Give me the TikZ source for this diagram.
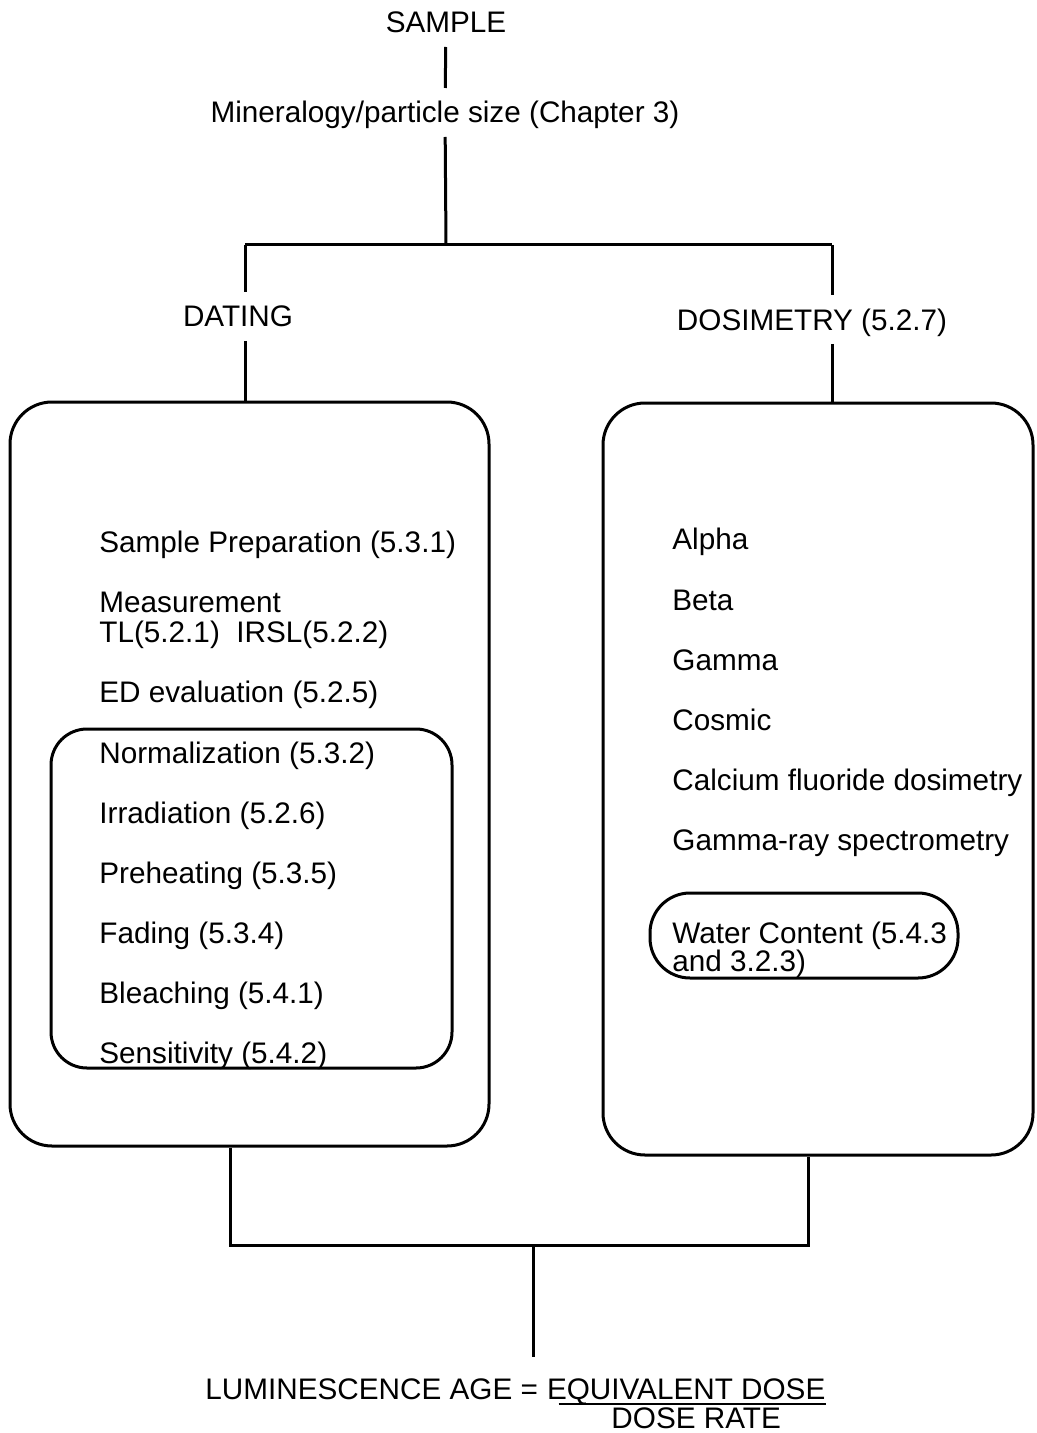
\documentclass[tikz,border=0pt]{standalone}
\usepackage{fontspec}
\setmainfont{Liberation Sans}
\usetikzlibrary{positioning,fit,calc}

\begin{document}
\begin{tikzpicture}[x=0.5pt, y=-0.5pt,
    every node/.style={font=\fontsize{14.85}{15}\selectfont},
    lbl/.style={inner sep=0pt, outer sep=7pt, text height=10.5pt, text depth=0pt, anchor=base},
    item/.style={inner sep=0pt, anchor=base west},
    bigbox/.style={draw, line width=1.5pt, rounded corners=21pt, inner sep=0pt},
    subbox/.style={draw, line width=1.5pt, rounded corners=18pt, inner sep=0pt},
    conn/.style={line width=1.5pt}
]
    \useasboundingbox (0,0) rectangle (1037,1433);

    % tree top
    \node[lbl] (sample)  at (446,33)  {SAMPLE};
    \node[lbl] (mineral) at (445,123) {Mineralogy/particle size (Chapter 3)};
    \coordinate (top) at (446,245);
    \coordinate (lbr) at (245,245);
    \coordinate (rbr) at (832,245);
    \node[lbl] (datlbl) at (238,327) {DATING};
    \node[lbl] (doslbl) at (812,330) {DOSIMETRY (5.2.7)};

    % boxes
    \node[bigbox, fit={(10,402) (489,1146)}]  (datbox) {};
    \node[bigbox, fit={(603,403) (1033,1155)}] (dosbox) {};
    \node[subbox, fit={(51,729) (452,1068)}]   (edbox)  {};
    \node[subbox, rounded corners=20pt, fit={(650,893) (958,978)}] (watbox) {};

    % dating side
    \node[item] (prep)   at (99,552)  {Sample Preparation (5.3.1)};
    \node[item] (meas)   at (99,612)  {Measurement};
    \node[item] (tl)     at (99,642)  {TL(5.2.1)\ \ IRSL(5.2.2)};
    \node[item] (edev)   at (99,702)  {ED evaluation (5.2.5)};
    \node[item] (norm)   at (99,763)  {Normalization (5.3.2)};
    \node[item] (irr)    at (99,823)  {Irradiation (5.2.6)};
    \node[item] (preh)   at (99,883)  {Preheating (5.3.5)};
    \node[item] (fade)   at (99,943)  {Fading (5.3.4)};
    \node[item] (bleach) at (99,1003) {Bleaching (5.4.1)};
    \node[item] (sens)   at (99,1063) {Sensitivity (5.4.2)};

    % dosimetry side
    \node[item] (alpha)  at (672,549) {Alpha};
    \node[item] (beta)   at (672,610) {Beta};
    \node[item] (gamma)  at (672,670) {Gamma};
    \node[item] (cosmic) at (672,730) {Cosmic};
    \node[item] (caf)    at (672,790) {Calcium fluoride dosimetry};
    \node[item] (grs)    at (672,850) {Gamma-ray spectrometry};
    \node[item] (water)  at (672,943) {Water Content (5.4.3};
    \node[item] (water2) at (672,971) {and 3.2.3)};

    % age equation
    \node[item] (lhs) at (205,1399) {LUMINESCENCE AGE =\ \hbox{}};
    \node[item] (num) at (lhs.base east) {EQUIVALENT DOSE};
    \node[inner sep=0pt, anchor=base] (den) at ($(num.base)+(10,29)$) {DOSE RATE};
    \draw[line width=1.2pt] ($(num.base west)+(12,5)$) -- ($(num.base east)+(0,5)$);

    % connectors
    \draw[conn] (sample) -- (mineral);
    \draw[conn] (mineral) -- (top);
    \draw[conn] (lbr) -- (rbr);
    \draw[conn] (lbr) -- (lbr |- datlbl.north);
    \draw[conn] (rbr) -- (rbr |- doslbl.north);
    \draw[conn] (datlbl.south -| lbr) -- (datbox.north -| lbr);
    \draw[conn] (doslbl.south -| rbr) -- (dosbox.north -| rbr);
    \coordinate (jl) at (230,1245);
    \coordinate (jr) at (808,1245);
    \coordinate (jc) at (533,1245);
    \draw[conn] (datbox.south -| jl) -- (jl) -- (jr) -- (dosbox.south -| jr);
    \draw[conn] (jc) -- ($(jc |- lhs.north)+(0,-21)$);
\end{tikzpicture}
\end{document}
